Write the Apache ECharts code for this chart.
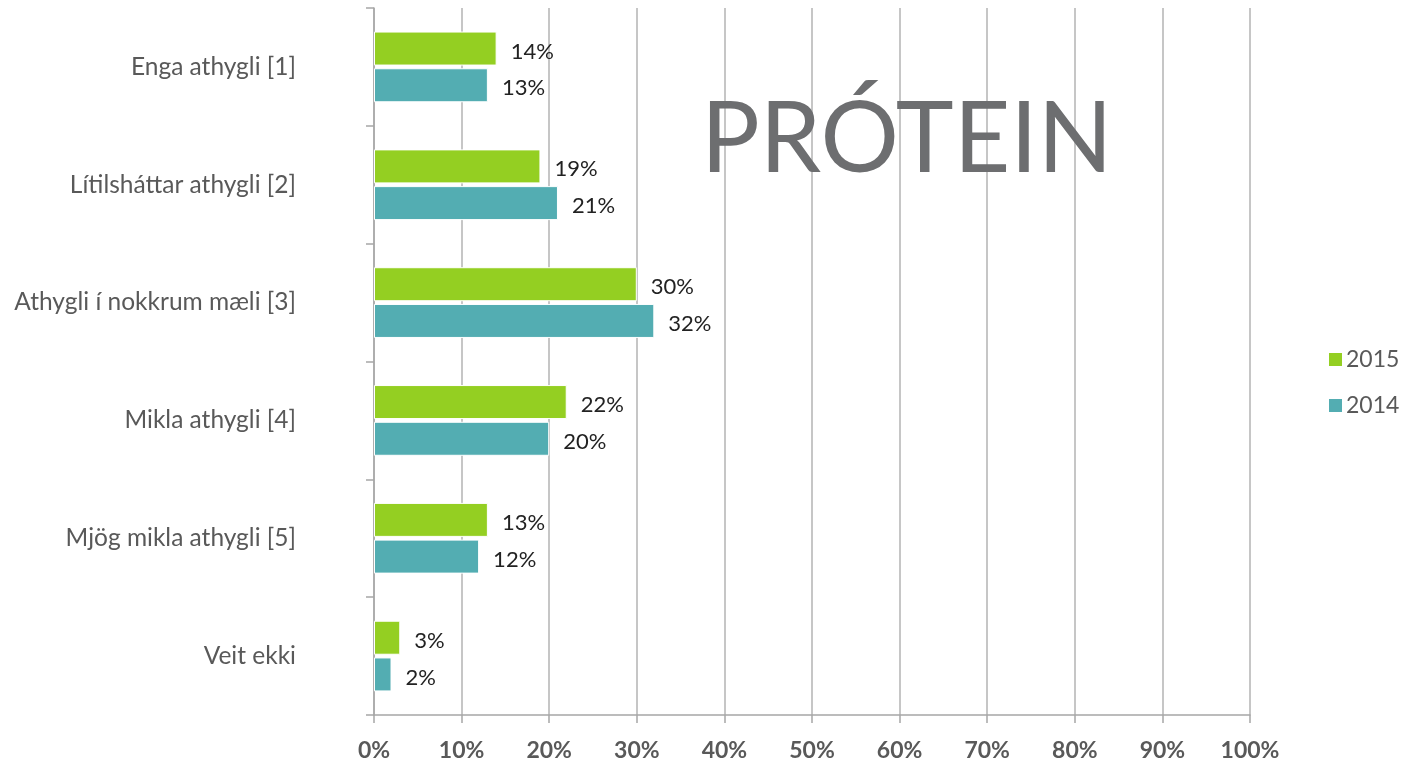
<!DOCTYPE html>
<html>
<head>
<meta charset="utf-8">
<script src="https://cdn.jsdelivr.net/npm/echarts@6/dist/echarts.min.js"></script>
<style>
  html, body { margin: 0; padding: 0; background: #ffffff; }
  #chart { width: 1418px; height: 762px; }
</style>
</head>
<body>
<div id="chart"></div>
<script>
// Survey answers on attention paid to protein, share of respondents per year
const categories = [
  'Enga athygli [1]',
  'Lítilsháttar athygli [2]',
  'Athygli í nokkrum mæli [3]',
  'Mikla athygli [4]',
  'Mjög mikla athygli [5]',
  'Veit ekki'
];
const values2015 = [14, 19, 30, 22, 13, 3];
const values2014 = [13, 21, 32, 20, 12, 2];
const seriesNames = ['2015', '2014'];
const titleText = 'PRÓTEIN';

const FONT = 'Lato, "Open Sans", sans-serif';
const chart = echarts.init(document.getElementById('chart'), null, { renderer: 'canvas' });

const labelStyle = {
  show: true,
  position: 'right',
  distance: 14,
  offset: [0, 3],
  formatter: p => p.value + '%',
  color: '#222222',
  fontFamily: FONT,
  fontSize: 22
};

chart.setOption({
  animation: false,
  backgroundColor: '#ffffff',
  title: {
    text: titleText,
    left: 696,
    top: 86,
    textStyle: { fontFamily: FONT, fontSize: 98, fontWeight: 'normal', color: '#6d6e70' }
  },
  legend: {
    orient: 'vertical',
    left: 1322,
    top: 343,
    itemWidth: 15,
    itemHeight: 15,
    itemGap: 23,
    icon: 'rect',
    data: seriesNames,
    textStyle: { fontFamily: FONT, fontSize: 23, color: '#595959', padding: [0, 0, 0, -2] }
  },
  grid: { left: 374, right: 168, top: 8, bottom: 46 },
  xAxis: {
    type: 'value',
    min: 0,
    max: 100,
    interval: 10,
    axisLine: { show: true, lineStyle: { color: '#a6a6a6', width: 1.5 } },
    axisTick: { show: true, length: 8, lineStyle: { color: '#a6a6a6', width: 1.5 } },
    splitLine: { show: true, lineStyle: { color: '#b3b3b3', width: 1.5 } },
    axisLabel: {
      formatter: '{value}%',
      margin: 24,
      fontFamily: FONT,
      fontSize: 23,
      fontWeight: 'bold',
      color: '#595959'
    }
  },
  yAxis: {
    type: 'category',
    inverse: true,
    data: categories,
    axisLine: { show: true, lineStyle: { color: '#a6a6a6', width: 1.5 } },
    axisTick: { show: true, length: 8, lineStyle: { color: '#a6a6a6', width: 1.5 } },
    axisLabel: {
      margin: 78,
      fontFamily: FONT,
      fontSize: 24.5,
      color: '#595959'
    }
  },
  series: [
    {
      name: seriesNames[0],
      type: 'bar',
      data: values2015,
      barWidth: 34,
      barGap: '8%',
      itemStyle: { color: '#94cf22', borderColor: '#ffffff', borderWidth: 1 },
      label: labelStyle
    },
    {
      name: seriesNames[1],
      type: 'bar',
      data: values2014,
      barWidth: 34,
      itemStyle: { color: '#53adb2', borderColor: '#ffffff', borderWidth: 1 },
      label: labelStyle
    }
  ]
});
</script>
</body>
</html>
